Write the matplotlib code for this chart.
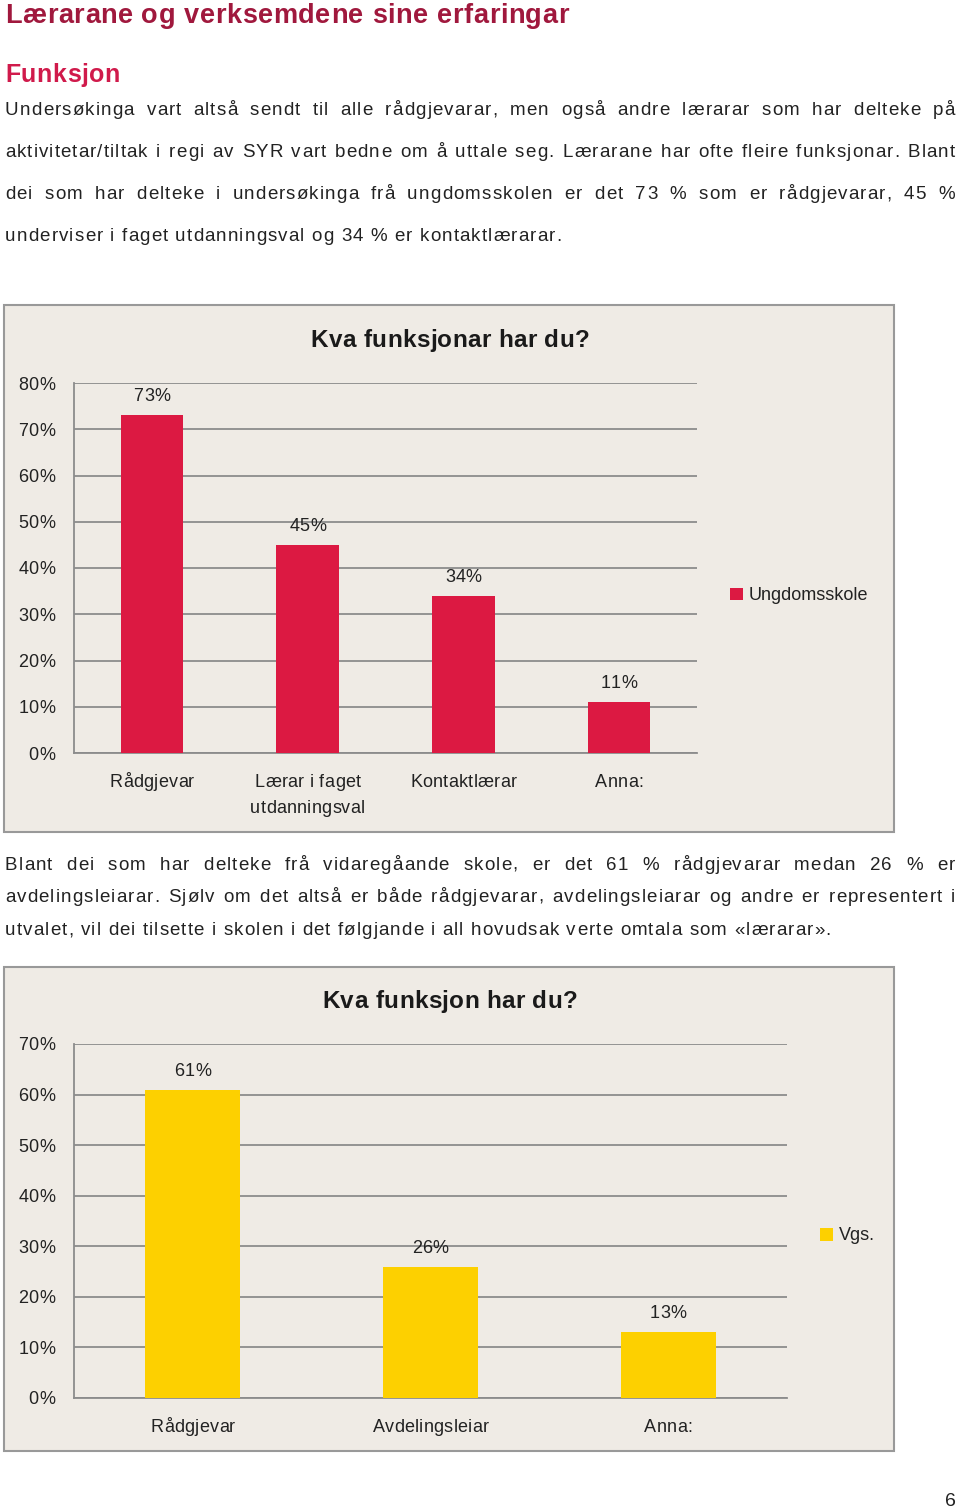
import matplotlib
matplotlib.use("Agg")
import matplotlib.pyplot as plt
from matplotlib import font_manager
from matplotlib.ft2font import FT2Font
from matplotlib.patches import Rectangle, Patch

try:
    from matplotlib.ft2font import LoadFlags
    NOHINT = LoadFlags.NO_HINTING
except ImportError:
    from matplotlib.ft2font import LOAD_NO_HINTING as NOHINT

plt.rcParams['font.family'] = ['Liberation Sans', 'DejaVu Sans']

W, H = 960, 1508

# data
kat_ungdom = ['Rådgjevar', 'Lærar i faget\nutdanningsval', 'Kontaktlærar', 'Anna:']
verdi_ungdom = [73, 45, 34, 11]
kat_vgs = ['Rådgjevar', 'Avdelingsleiar', 'Anna:']
verdi_vgs = [61, 26, 13]
ticks_ungdom = [0, 10, 20, 30, 40, 50, 60, 70, 80]
ticks_vgs = [0, 10, 20, 30, 40, 50, 60, 70]

avsnitt1 = [
    "Undersøkinga vart altså sendt til alle rådgjevarar, men også andre lærarar som har delteke på",
    "aktivitetar/tiltak i regi av SYR vart bedne om å uttale seg. Lærarane har ofte fleire funksjonar. Blant",
    "dei som har delteke i undersøkinga frå ungdomsskolen er det 73 % som er rådgjevarar, 45 %",
    "underviser i faget utdanningsval og 34 % er kontaktlærarar.",
]
avsnitt2 = [
    "Blant dei som har delteke frå vidaregåande skole, er det 61 % rådgjevarar medan 26 % er",
    "avdelingsleiarar. Sjølv om det altså er både rådgjevarar, avdelingsleiarar og andre er representert i",
    "utvalet, vil dei tilsette i skolen i det følgjande i all hovudsak verte omtala som «lærarar».",
]

RAUD = '#dc1942'
GUL = '#fdd000'
BAKGRUNN = '#efebe5'
GRID = '#8c8c8c'
TEKST = '#222222'

fig = plt.figure(figsize=(W / 100, H / 100), dpi=100)
fig.patch.set_facecolor('white')


def fx(x):
    return x / W


def fy(y):
    return 1 - y / H


_fontar = {}


def advance(c, size, weight):
    if weight not in _fontar:
        sti = font_manager.findfont(font_manager.FontProperties(family='Liberation Sans', weight=weight))
        _fontar[weight] = FT2Font(sti, hinting_factor=1)
    f = _fontar[weight]
    f.set_size(size, 100)
    return f.load_char(ord(c), flags=NOHINT).linearHoriAdvance / 65536


def breidd(s, size, weight='normal', spor=1.0):
    return sum(advance(c, size, weight) for c in s) + spor * (len(s) - 1)


def sporing(x, y, s, size, weight='normal', color=TEKST, ha='left', spor=1.0):
    # tekst med litt ekstra bokstavavstand, x/y i piksel (y = grunnlinje, frå toppen)
    total = breidd(s, size, weight, spor)
    if ha == 'center':
        x -= total / 2
    elif ha == 'right':
        x -= total
    for c in s:
        if c != ' ':
            fig.text(fx(x), fy(y), c, fontsize=size, fontweight=weight, color=color, va='baseline')
        x += advance(c, size, weight) + spor
    return x


def tekstlinje(linje, y, size, justert=True, x0=5, x1=955, spor=1.0):
    ord_ = linje.split()
    if justert:
        b = [breidd(w, size, spor=spor) for w in ord_]
        gap = (x1 - x0 - sum(b)) / (len(ord_) - 1)
        x = x0
        for w, bw in zip(ord_, b):
            sporing(x, y, w, size, spor=spor)
            x += bw + gap
    else:
        sporing(x0, y, linje, size, spor=spor)


# overskrifter
sporing(5, 23, 'Lærarane og verksemdene sine erfaringar', 19.5, 'bold', '#a0183d', spor=0.65)
sporing(5, 82, 'Funksjon', 18, 'bold', '#d01a4b', spor=0.5)

BODY = 13.5
for i, (linje, y) in enumerate(zip(avsnitt1, [115, 157, 199, 241])):
    tekstlinje(linje, y, BODY, justert=i < len(avsnitt1) - 1)
for i, (linje, y) in enumerate(zip(avsnitt2, [870, 902, 935])):
    tekstlinje(linje, y, BODY, justert=i < len(avsnitt2) - 1)

sporing(950, 1506, '6', 14, ha='center')


def pix(ax, x, y):
    px, py = ax.transData.transform((x, y))
    return px, H - py


def diagram(boks, plott, tittel, tittel_y, kat, verdiar, ticks, farge, etikett, leg_xy):
    bx0, by0, bx1, by1 = boks
    fig.add_artist(Rectangle((fx(bx0), fy(by1)), (bx1 - bx0) / W, (by1 - by0) / H,
                             transform=fig.transFigure, facecolor=BAKGRUNN,
                             edgecolor='#999999', linewidth=1.5, zorder=-1))
    px0, py0, px1, py1 = plott
    ax = fig.add_axes([fx(px0), fy(py1), (px1 - px0) / W, (py1 - py0) / H])
    ax.set_facecolor('none')
    x = list(range(len(kat)))
    ax.bar(x, verdiar, width=0.4, color=farge, zorder=3, label=etikett)
    ax.set_xlim(-0.5, len(kat) - 0.5)
    ax.set_ylim(0, ticks[-1])
    ax.set_yticks(ticks)
    ax.set_xticks(x)
    ax.tick_params(axis='both', length=0, labelleft=False, labelbottom=False)
    ax.yaxis.grid(True, color=GRID, linewidth=1.3)
    ax.set_axisbelow(True)
    for s in ['top', 'right']:
        ax.spines[s].set_visible(False)
    for s in ['left', 'bottom']:
        ax.spines[s].set_color(GRID)
        ax.spines[s].set_linewidth(1.3)

    # etikettar med bokstavavstand
    for t in ticks:
        _, ty = pix(ax, -0.5, t)
        sporing(px0 - 19, ty + 6.5, f'{t}%', 13, ha='right', spor=0.3)
    for xi, v in zip(x, verdiar):
        bx, by = pix(ax, xi, v)
        sporing(bx, by - 14, f'{v}%', 13, ha='center', spor=0.3)
    for xi, k in zip(x, kat):
        bx, by = pix(ax, xi, 0)
        for j, linje in enumerate(k.split('\n')):
            sporing(bx, by + 34 + 26 * j, linje, 13, ha='center', spor=0.3)

    sporing(450, tittel_y, tittel, 17.5, 'bold', '#1a1a1a', ha='center', spor=0.5)
    ax.legend(handles=[Patch(facecolor=farge, label=etikett)], loc='center left',
              bbox_to_anchor=(fx(leg_xy[0]), fy(leg_xy[1])), bbox_transform=fig.transFigure,
              frameon=False, fontsize=13, handlelength=0.7, handleheight=0.7,
              handletextpad=0.35, borderpad=0, borderaxespad=0, labelcolor=TEKST)
    return ax


diagram((4, 305, 894, 832), (74, 383, 697, 753), 'Kva funksjonar har du?', 347,
        kat_ungdom, verdi_ungdom, ticks_ungdom, RAUD, 'Ungdomsskole', (730, 596))
diagram((4, 967, 894, 1451), (74, 1044, 787, 1398), 'Kva funksjon har du?', 1008,
        kat_vgs, verdi_vgs, ticks_vgs, GUL, 'Vgs.', (820, 1236))

fig.savefig('out.png', dpi=100)
